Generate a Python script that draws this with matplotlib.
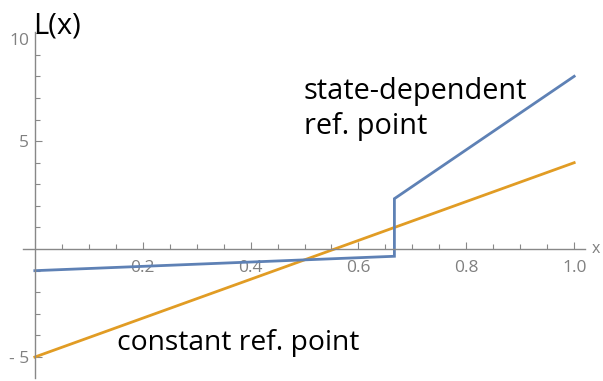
import numpy as np
import matplotlib
matplotlib.use("Agg")
import matplotlib.pyplot as plt
from matplotlib.ticker import FixedLocator

# piecewise loss curves
x_state = [0.0, 2 / 3, 2 / 3, 1.0]
y_state = [-1.0, -1 / 3, 7 / 3, 8.0]
x_const = [0.0, 1.0]
y_const = [-5.0, 4.0]

x_major = [0.2, 0.4, 0.6, 0.8, 1.0]
x_major_labels = ["0.2", "0.4", "0.6", "0.8", "1.0"]
y_major = [-5, 5, 10]
y_major_labels = ["- 5", "5", "10"]

BLUE = "#5E81B5"
ORANGE = "#E19C24"
AXIS = "#888888"
TICKTXT = "#808080"

plt.rcParams["font.family"] = ["Open Sans", "DejaVu Sans"]

fig = plt.figure(figsize=(6.03, 3.81), dpi=100)
ax = fig.add_axes([0.0381, 0.0079, 0.932, 0.908])

ax.plot(x_const, y_const, color=ORANGE, lw=2.0, solid_joinstyle="miter")
ax.plot(x_state, y_state, color=BLUE, lw=2.0, solid_joinstyle="miter")

ax.set_xlim(-0.022, 1.02)
ax.set_ylim(-5.97, 10.05)

for s in ["top", "right"]:
    ax.spines[s].set_visible(False)
ax.spines["left"].set_position(("data", 0))
ax.spines["bottom"].set_position(("data", 0))
for s in ["left", "bottom"]:
    ax.spines[s].set_color(AXIS)
    ax.spines[s].set_linewidth(1.0)

ax.xaxis.set_major_locator(FixedLocator(x_major))
ax.set_xticklabels(x_major_labels)
x_minor = [round(v, 2) for v in np.arange(0.05, 1.001, 0.05)
           if round(v, 2) not in x_major]
ax.xaxis.set_minor_locator(FixedLocator(x_minor))

ax.yaxis.set_major_locator(FixedLocator(y_major))
ax.set_yticklabels(y_major_labels)
y_minor = [v for v in range(-6, 11) if v not in y_major and v != 0]
ax.yaxis.set_minor_locator(FixedLocator(y_minor))

ax.tick_params(which="both", direction="in", color=AXIS, width=0.8,
               labelcolor=TICKTXT, labelsize=12.5)
ax.tick_params(which="major", length=5)
ax.tick_params(which="minor", length=3.5)
ax.tick_params(axis="x", pad=8)
ax.tick_params(axis="y", pad=4)

# the top label sits just under its tick, clear of L(x)
ax.get_yticklabels()[-1].set_va("top")

ax.text(1.033, 0, "x", color=TICKTXT, fontsize=11.5, va="center", ha="left",
        transform=ax.transData, clip_on=False)
ax.text(-0.004, 10.0, "L(x)", fontsize=21, va="baseline", ha="left",
        transform=ax.transData, clip_on=False)

ax.text(0.499, 6.97, "state-dependent", fontsize=20.8, va="baseline", ha="left")
ax.text(0.499, 5.33, "ref. point", fontsize=20.8, va="baseline", ha="left")
ax.text(0.152, -4.68, "constant ref. point", fontsize=20.3, va="baseline", ha="left")

fig.savefig("out.png", dpi=100)
